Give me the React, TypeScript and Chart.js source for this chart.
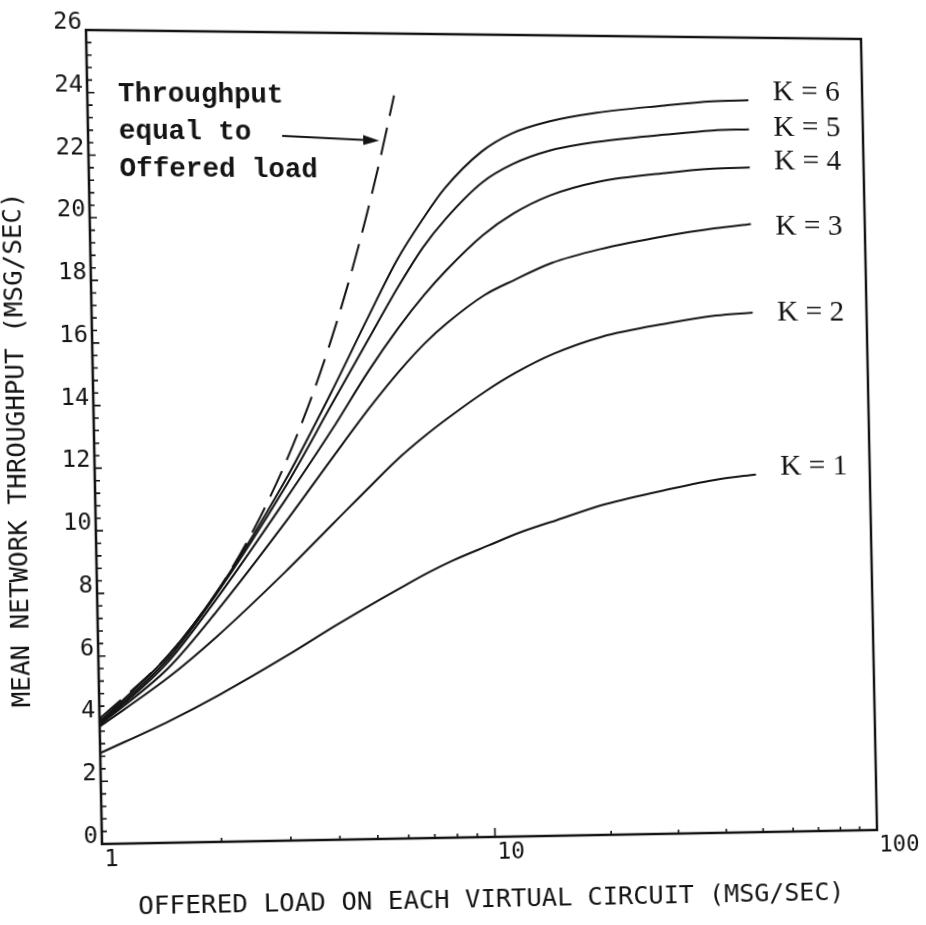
import { useEffect, useRef } from 'react';
import { Chart, registerables } from 'chart.js';

Chart.register(...registerables);

// Offered load on each virtual circuit (msg/sec)
const offeredLoad = [1, 1.5, 2, 3, 4, 5, 6, 7, 8, 10, 12, 15, 20, 30, 40, 50];

// Mean network throughput (msg/sec) for window sizes K = 1..6
const throughputK1 = [2.9, 3.9, 4.7, 5.95, 6.9, 7.6, 8.15, 8.6, 8.95, 9.45, 9.85, 10.25, 10.75, 11.25, 11.55, 11.7];
const throughputK2 = [3.75, 5.3, 6.6, 8.65, 10.2, 11.4, 12.35, 13.05, 13.6, 14.45, 15.05, 15.65, 16.2, 16.65, 16.9, 17.0];
const throughputK3 = [3.8, 5.6, 7.4, 10.2, 12.3, 13.9, 15.1, 16.0, 16.65, 17.55, 18.05, 18.6, 19.05, 19.5, 19.75, 19.9];
const throughputK4 = [3.8, 5.8, 7.8, 10.9, 13.2, 15.1, 16.5, 17.55, 18.35, 19.5, 20.2, 20.8, 21.25, 21.55, 21.7, 21.75];
const throughputK5 = [3.85, 5.9, 7.95, 11.3, 14.0, 16.1, 17.8, 19.1, 20.0, 21.2, 21.8, 22.25, 22.55, 22.8, 22.95, 23.0];
const throughputK6 = [3.9, 6.0, 8.0, 11.5, 14.4, 16.8, 18.7, 20.0, 21.0, 22.2, 22.8, 23.2, 23.5, 23.75, 23.9, 23.95];

// Reference line: throughput equal to the offered load of all circuits
const idealLoad = [1, 1.5, 2, 2.5, 3, 3.5, 4, 4.5, 5, 5.5, 6];
const idealThroughput = [4, 6, 8, 10, 12, 14, 16, 18, 20, 22, 24];

const curveNames = ['K = 1', 'K = 2', 'K = 3', 'K = 4', 'K = 5', 'K = 6'];
const curveSeries = [throughputK1, throughputK2, throughputK3, throughputK4, throughputK5, throughputK6];

const yTickLabels = [0, 2, 4, 6, 8, 10, 12, 14, 16, 18, 20, 22, 24, 26];
const xTickLabels = [1, 10, 100];
const xMinorTicks = [2, 3, 4, 5, 6, 7, 8, 9, 20, 30, 40, 50, 60, 70, 80, 90];

const annotationLines = ['Throughput', 'equal to', 'Offered load'];
const xTitle = 'OFFERED LOAD ON EACH VIRTUAL CIRCUIT (MSG/SEC)';
const yTitle = 'MEAN NETWORK THROUGHPUT (MSG/SEC)';

// Plot frame inside the canvas, and where its corners land on the page
// (the printed sheet sits slightly keystoned).
const plotBox = { left: 94, top: 34, width: 775, height: 803 };
const frameCorners = [
  [86, 30],
  [861, 39],
  [877, 830],
  [102, 844],
];

function keystoneMatrix(): string {
  const [[x0, y0], [x1, y1], [x2, y2], [x3, y3]] = frameCorners;
  const dx1 = x1 - x2, dx2 = x3 - x2, dx3 = x0 - x1 + x2 - x3;
  const dy1 = y1 - y2, dy2 = y3 - y2, dy3 = y0 - y1 + y2 - y3;
  const den = dx1 * dy2 - dx2 * dy1;
  const g = (dx3 * dy2 - dx2 * dy3) / den;
  const h = (dx1 * dy3 - dx3 * dy1) / den;
  const a = x1 - x0 + g * x1, b = x3 - x0 + h * x3, c = x0;
  const d = y1 - y0 + g * y1, e = y3 - y0 + h * y3, f = y0;
  const { left: X0, top: Y0, width: W, height: H } = plotBox;
  const m = [
    a / W, d / W, 0, g / W,
    b / H, e / H, 0, h / H,
    0, 0, 1, 0,
    c - (a * X0) / W - (b * Y0) / H,
    f - (d * X0) / W - (e * Y0) / H,
    0,
    1 - (g * X0) / W - (h * Y0) / H,
  ];
  return `matrix3d(${m.join(',')})`;
}

const INK = '#141414';
const plotterFont = '"DejaVu Sans Mono", monospace';

const framePlugin = {
  id: 'plotFrame',
  afterDraw(chart: any) {
    const { ctx, chartArea } = chart;
    const { left, right, top, bottom } = chartArea;
    const xs = chart.scales.x;
    const ys = chart.scales.y;
    ctx.save();
    ctx.strokeStyle = INK;
    ctx.fillStyle = INK;

    // frame
    ctx.lineWidth = 2.5;
    ctx.strokeRect(left, top, right - left, bottom - top);

    // inner ticks on the y axis (every 0.4)
    ctx.lineWidth = 1.6;
    ctx.beginPath();
    for (let i = 0; i <= 65; i++) {
      const y = ys.getPixelForValue(i * 0.4);
      const len = i % 5 === 0 ? 7 : 5;
      ctx.moveTo(left, y);
      ctx.lineTo(left + len, y);
    }
    // inner ticks on the x axis
    xMinorTicks.forEach((v) => {
      const x = xs.getPixelForValue(v);
      ctx.moveTo(x, bottom);
      ctx.lineTo(x, bottom - 4);
    });
    const x10 = xs.getPixelForValue(10);
    ctx.moveTo(x10, bottom);
    ctx.lineTo(x10, bottom - 9);
    ctx.stroke();

    // tick labels
    ctx.font = `23px ${plotterFont}`;
    ctx.textAlign = 'right';
    ctx.textBaseline = 'middle';
    yTickLabels.forEach((v) => {
      ctx.fillText(String(v), left - 4, ys.getPixelForValue(v) - 7);
    });
    ctx.textAlign = 'left';
    ctx.textBaseline = 'top';
    xTickLabels.forEach((v) => {
      ctx.fillText(String(v), xs.getPixelForValue(v) + 2, bottom + 5);
    });

    // axis titles
    ctx.font = `25.5px ${plotterFont}`;
    ctx.textAlign = 'center';
    ctx.textBaseline = 'middle';
    ctx.fillText(xTitle, 481, 900);
    ctx.save();
    ctx.translate(20, 448);
    ctx.rotate(-Math.PI / 2);
    ctx.fillText(yTitle, 0, 0);
    ctx.restore();

    // typed annotation with arrow
    ctx.font = 'bold 27px "Liberation Mono", monospace';
    ctx.textAlign = 'left';
    ctx.textBaseline = 'alphabetic';
    const baselines = [104, 141, 178];
    annotationLines.forEach((t, i) => ctx.fillText(t, 124, baselines[i]));
    ctx.lineWidth = 2;
    ctx.beginPath();
    ctx.moveTo(284, 137);
    ctx.lineTo(366, 140.5);
    ctx.stroke();
    ctx.beginPath();
    ctx.moveTo(380, 141);
    ctx.lineTo(364, 135.5);
    ctx.lineTo(364, 145.5);
    ctx.closePath();
    ctx.fill();

    // curve labels
    const labelLevels = [11.95, 17.0, 19.8, 21.95, 23.05, 24.2];
    ctx.font = '30px "Liberation Serif", serif';
    ctx.textBaseline = 'middle';
    const lx = xs.getPixelForValue(58);
    curveNames.forEach((name, i) => {
      ctx.fillText(name, lx, ys.getPixelForValue(labelLevels[i]));
    });
    ctx.restore();
  },
};

export default function App() {
  const canvasRef = useRef<HTMLCanvasElement | null>(null);

  useEffect(() => {
    const canvas = canvasRef.current;
    if (!canvas) return;
    const datasets: any[] = curveSeries.map((series, i) => ({
      label: curveNames[i],
      data: offeredLoad.map((x, j) => ({ x, y: series[j] })),
      borderColor: INK,
      borderWidth: 2,
      pointRadius: 0,
      cubicInterpolationMode: 'monotone',
      fill: false,
    }));
    datasets.push({
      label: 'Throughput equal to offered load',
      data: idealLoad.map((x, j) => ({ x, y: idealThroughput[j] })),
      borderColor: INK,
      borderWidth: 2,
      borderDash: [28, 12],
      pointRadius: 0,
      cubicInterpolationMode: 'monotone',
      fill: false,
    });

    const chart = new Chart(canvas, {
      type: 'line',
      data: { datasets },
      options: {
        responsive: false,
        animation: false,
        devicePixelRatio: 1,
        layout: {
          padding: {
            left: plotBox.left,
            top: plotBox.top,
            right: 926 - plotBox.left - plotBox.width,
            bottom: 925 - plotBox.top - plotBox.height,
          },
        },
        plugins: {
          legend: { display: false },
          tooltip: { enabled: false },
          title: { display: false },
        },
        scales: {
          x: { type: 'logarithmic', min: 1, max: 100, display: false },
          y: { type: 'linear', min: 0, max: 26, display: false },
        },
      },
      plugins: [framePlugin],
    });
    return () => chart.destroy();
  }, []);

  return (
    <div style={{ position: 'fixed', left: 0, top: 0, width: 926, height: 925, background: '#fff', overflow: 'hidden' }}>
      <canvas
        ref={canvasRef}
        width={926}
        height={925}
        style={{ display: 'block', width: 926, height: 925, transformOrigin: '0 0', transform: keystoneMatrix() }}
      />
    </div>
  );
}
